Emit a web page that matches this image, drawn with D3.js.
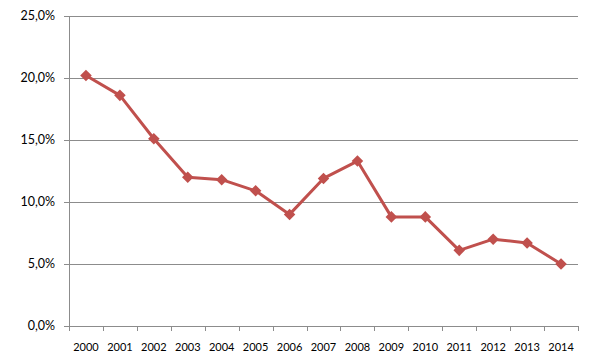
<!DOCTYPE html>
<html>
<head>
<meta charset="utf-8">
<script src="https://cdn.jsdelivr.net/npm/d3@7"></script>
<style>
  body { margin: 0; background: #fff; }
  text { font-family: Lato, "Open Sans", sans-serif; fill: #000; }
</style>
</head>
<body>
<script>
const w = 597;
const h = 360;

const years = ['2000', '2001', '2002', '2003', '2004', '2005', '2006', '2007',
   '2008', '2009', '2010', '2011', '2012', '2013', '2014'];
const rates = [20.2, 18.6, 15.1, 12.0, 11.8, 10.9, 9.0, 11.9, 13.3, 8.8, 8.8, 6.1, 7.0, 6.7, 5.0];
const yTicks = [0, 5, 10, 15, 20, 25];

const padL = 69, padR = 578, padT = 16, padB = 326;

const svg = d3.select('body')
   .append('svg')
   .attr('width', w)
   .attr('height', h);

const xScale = d3.scaleBand()
   .domain(years)
   .range([padL, padR]);

const yScale = d3.scaleLinear()
   .domain([0, 25])
   .range([padB, padT]);

// gridlines
svg.selectAll('.grid')
   .data(yTicks)
   .enter()
   .append('line')
   .attr('x1', padL - 5)
   .attr('x2', padR)
   .attr('y1', (d) => Math.round(yScale(d)) + 0.5)
   .attr('y2', (d) => Math.round(yScale(d)) + 0.5)
   .style('stroke', '#8c8c8c')
   .style('stroke-width', 1);

// y axis line
svg.append('line')
   .attr('x1', padL + 0.5).attr('x2', padL + 0.5)
   .attr('y1', padT).attr('y2', padB + 0.5)
   .style('stroke', '#8c8c8c');

// y labels
svg.selectAll('.ylab')
   .data(yTicks)
   .enter()
   .append('text')
   .attr('x', 55)
   .attr('y', (d) => yScale(d))
   .attr('dy', '0.35em')
   .attr('text-anchor', 'end')
   .style('font-size', '12.5px')
   .text((d) => d.toFixed(1).replace('.', ',') + '%');

// x ticks
const xTickPos = years.map((d) => xScale(d)).concat([padR]);
svg.selectAll('.xtick')
   .data(xTickPos)
   .enter()
   .append('line')
   .attr('x1', (d) => Math.round(d) + 0.5)
   .attr('x2', (d) => Math.round(d) + 0.5)
   .attr('y1', padB)
   .attr('y2', padB + 5)
   .style('stroke', '#8c8c8c');

// x labels
svg.selectAll('.xlab')
   .data(years)
   .enter()
   .append('text')
   .attr('x', (d) => xScale(d) + xScale.bandwidth() / 2)
   .attr('y', 351)
   .attr('text-anchor', 'middle')
   .style('font-size', '11px')
   .text((d) => d);

const line = d3.line()
   .x((d, i) => xScale(years[i]) + xScale.bandwidth() / 2)
   .y((d) => yScale(d));

svg.append('path')
   .datum(rates)
   .attr('d', line)
   .style('fill', 'none')
   .style('stroke', '#C0504D')
   .style('stroke-width', 3)
   .style('stroke-linejoin', 'round');

svg.selectAll('.pt')
   .data(rates)
   .enter()
   .append('path')
   .attr('d', d3.symbol().type(d3.symbolDiamond2).size(85))
   .attr('transform', (d, i) => 'translate(' + (xScale(years[i]) + xScale.bandwidth() / 2) + ',' + yScale(d) + ')')
   .style('fill', '#C0504D');
</script>
</body>
</html>
